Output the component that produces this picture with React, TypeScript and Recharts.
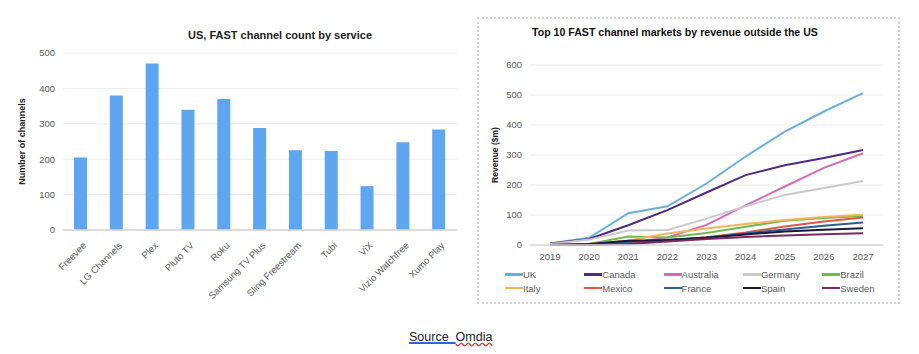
import React from 'react'
import {
  BarChart, Bar, LineChart, Line, XAxis, YAxis, CartesianGrid,
} from 'recharts'

const services = ['Freevee', 'LG Channels', 'Plex', 'Pluto TV', 'Roku', 'Samsung TV Plus', 'Sling Freestream', 'Tubi', 'ViX', 'Vizio Watchfree', 'Xumo Play']
const channelCounts = [205, 380, 470, 340, 370, 288, 225, 223, 124, 248, 284]
const barTicks = [0, 100, 200, 300, 400, 500]

const years = ['2019', '2020', '2021', '2022', '2023', '2024', '2025', '2026', '2027']
const uk = [5, 24, 106, 129, 205, 295, 378, 445, 506]
const canada = [5, 20, 66, 116, 175, 233, 266, 290, 317]
const australia = [0, 2, 5, 25, 67, 132, 195, 257, 306]
const germany = [3, 18, 48, 50, 88, 129, 167, 190, 213]
const brazil = [0, 3, 28, 25, 40, 61, 81, 90, 97]
const italy = [0, 3, 15, 38, 55, 70, 83, 93, 101]
const mexico = [0, 1, 4, 15, 26, 42, 62, 78, 92]
const france = [0, 2, 10, 17, 25, 38, 52, 64, 75]
const spain = [0, 3, 14, 17, 24, 35, 45, 51, 56]
const sweden = [0, 0, 3, 12, 20, 27, 32, 36, 39]
const lineTicks = [0, 100, 200, 300, 400, 500, 600]

const countries = [
  { key: 'UK', values: uk, color: '#6AAEE0' },
  { key: 'Canada', values: canada, color: '#4E2A80' },
  { key: 'Australia', values: australia, color: '#D56CB3' },
  { key: 'Germany', values: germany, color: '#C9C9C9' },
  { key: 'Brazil', values: brazil, color: '#72B84E' },
  { key: 'Italy', values: italy, color: '#F2B55E' },
  { key: 'Mexico', values: mexico, color: '#DD5A48' },
  { key: 'France', values: france, color: '#2D5D8E' },
  { key: 'Spain', values: spain, color: '#1A1A38' },
  { key: 'Sweden', values: sweden, color: '#7A2A62' },
]

const barData = services.map((name, i) => ({ name, count: channelCounts[i] }))
const lineData = years.map((year, i) => {
  const row: Record<string, string | number> = { year }
  countries.forEach((c) => { row[c.key] = c.values[i] })
  return row
})

const axisFont = 'Liberation Sans, Arial, sans-serif'
const tickStyle = { fill: '#595959', fontSize: 9.5, fontFamily: axisFont }

function SlantTick({ x, y, payload }: any) {
  return (
    <g transform={`translate(${x + 4},${y + 6})`}>
      <text textAnchor="end" transform="rotate(-45)" fill="#595959" fontSize={9.5} fontFamily={axisFont} dy={3}>
        {payload.value}
      </text>
    </g>
  )
}

export default function App() {
  return (
    <div style={{ position: 'fixed', left: 0, top: 0, width: 919, height: 354, background: '#fff', fontFamily: axisFont }}>
      {/* left: bar chart */}
      <div style={{ position: 'absolute', left: 0, top: 29, width: 560, textAlign: 'center', fontSize: 11, fontWeight: 700, color: '#222' }}>
        US, FAST channel count by service
      </div>
      <div style={{ position: 'absolute', left: 0, top: 0 }}>
        <BarChart width={465} height={300} data={barData} margin={{ top: 53, right: 8, left: 0, bottom: 0 }}>
          <CartesianGrid vertical={false} stroke="#ebebeb" />
          <XAxis dataKey="name" interval={0} height={70} tick={<SlantTick />} tickLine={false} axisLine={{ stroke: '#d4d4d4', strokeWidth: 1.5 }} />
          <YAxis
            width={63}
            domain={[0, 500]}
            ticks={barTicks}
            tick={tickStyle}
            axisLine={false}
            tickLine={false}
            label={{ value: 'Number of channels', angle: -90, position: 'insideLeft', dx: 17, fill: '#222', fontSize: 9, fontWeight: 700, style: { textAnchor: 'middle' } }}
          />
          <Bar dataKey="count" fill="#5FA6F0" barSize={13} isAnimationActive={false} />
        </BarChart>
      </div>

      {/* right: line chart */}
      <div style={{ position: 'absolute', left: 477, top: 17, width: 419, height: 283, border: '2px dotted #cfcfcf' }} />
      <div style={{ position: 'absolute', left: 532, top: 26, fontSize: 10.6, fontWeight: 700, color: '#111' }}>
        Top 10 FAST channel markets by revenue outside the US
      </div>
      <div style={{ position: 'absolute', left: 477, top: 18 }}>
        <LineChart width={423} height={247} data={lineData} margin={{ top: 47, right: 17, left: 0, bottom: 0 }}>
          <CartesianGrid vertical={false} stroke="#ececec" />
          <XAxis dataKey="year" height={20} padding={{ left: 20, right: 20 }} tick={tickStyle} tickLine={false} axisLine={{ stroke: '#d4d4d4', strokeWidth: 1.5 }} />
          <YAxis
            width={53}
            domain={[0, 600]}
            ticks={lineTicks}
            tick={tickStyle}
            axisLine={false}
            tickLine={false}
            label={{ value: 'Revenue ($m)', angle: -90, position: 'insideLeft', dx: 13, fill: '#222', fontSize: 8.5, fontWeight: 700, style: { textAnchor: 'middle' } }}
          />
          {countries.map((c) => (
            <Line key={c.key} dataKey={c.key} stroke={c.color} strokeWidth={2} dot={false} type="linear" isAnimationActive={false} />
          ))}
        </LineChart>
      </div>
      {countries.map((c, i) => (
        <div
          key={c.key}
          style={{ position: 'absolute', left: 505 + (i % 5) * 79.3, top: 269 + Math.floor(i / 5) * 13.5, display: 'flex', alignItems: 'center', fontSize: 9.5, color: '#595959' }}
        >
          <span style={{ display: 'inline-block', width: 18, height: 2.5, background: c.color }} />
          {c.key}
        </div>
      ))}

      {/* source */}
      <div style={{ position: 'absolute', left: 409, top: 330, fontSize: 12.5, color: '#222' }}>
        <span style={{ textDecoration: 'underline', textDecorationColor: '#3a5fd0', textDecorationThickness: 2 }}>Source&nbsp;&nbsp;</span>
        <span style={{ textDecoration: 'underline wavy', textDecorationColor: '#d33' }}>Omdia</span>
      </div>
    </div>
  )
}
